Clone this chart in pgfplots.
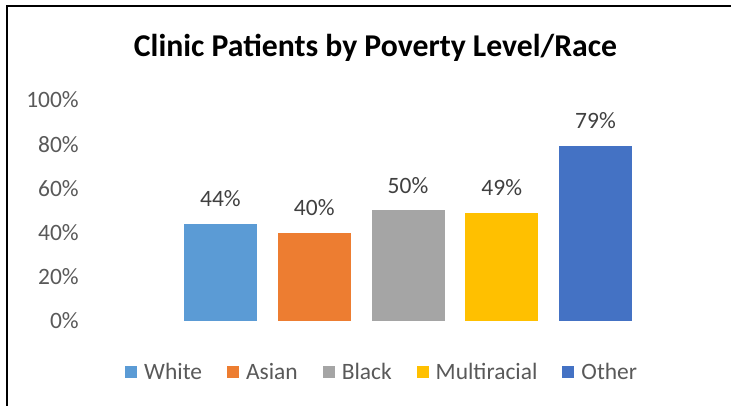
\documentclass[border=0pt]{standalone}
\usepackage{pgfplots}
\pgfplotsset{compat=1.18}
\usepackage{fontspec}
\setmainfont{Carlito}
\definecolor{cWhite}{HTML}{5B9BD5}
\definecolor{cAsian}{HTML}{ED7D31}
\definecolor{cBlack}{HTML}{A5A5A5}
\definecolor{cMulti}{HTML}{FFC000}
\definecolor{cOther}{HTML}{4472C4}
\definecolor{txt}{HTML}{595959}
\definecolor{lbl}{HTML}{404040}
\begin{document}
\begin{tikzpicture}
\begin{scope}[x=0.75pt,y=0.75pt]
\path[use as bounding box] (0,0) rectangle (731,406);
\draw[line width=1.2pt] (7,0) -- (7,400) -- (731,400);
\node[font=\fontsize{23.8}{28}\selectfont\bfseries, text=black] at (375.5,358) {Clinic Patients by Poverty Level/Race};
\end{scope}
\begin{axis}[
  at={(66pt,63.75pt)}, anchor=south west,
  scale only axis,
  width=480pt, height=165.75pt,
  xmin=-1.413, xmax=5.413,
  ymin=0, ymax=100,
  ybar, bar width=54.75pt, bar shift=0pt,
  axis line style={draw=none},
  xtick=\empty,
  ytick={0,20,40,60,80,100},
  major tick length=0pt,
  /pgf/number format/assume math mode=true,
  yticklabel={\pgfmathprintnumber{\tick}\%},
  yticklabel style={font=\fontsize{17.6}{21}\selectfont, text=txt, inner sep=0pt, xshift=-6.75pt},
  nodes near coords={\pgfmathprintnumber{\pgfplotspointmeta}\%},
  every node near coord/.append style={font=\fontsize{17.6}{21}\selectfont, text=lbl, inner sep=0pt, anchor=south, yshift=12.75pt},
  legend columns=5,
  legend style={at={(0.458,-0.231)}, anchor=center, draw=none, fill=none,
    font=\fontsize{17.6}{21}\selectfont, text=txt,
    nodes={inner sep=0pt},
    column sep=5.25pt,
    /tikz/every even column/.append style={column sep=18.75pt}},
  legend image code/.code={\fill[#1] (0pt,-4.5pt) rectangle (9pt,4.5pt);},
]
\addplot[fill=cWhite, draw=none] coordinates {(0,44)};
\addlegendentry{White}
\addplot[fill=cAsian, draw=none] coordinates {(1,40)};
\addlegendentry{Asian}
\addplot[fill=cBlack, draw=none] coordinates {(2,50)};
\addlegendentry{Black}
\addplot[fill=cMulti, draw=none] coordinates {(3,49)};
\addlegendentry{Multiracial}
\addplot[fill=cOther, draw=none] coordinates {(4,79)};
\addlegendentry{Other}
\end{axis}
\end{tikzpicture}
\end{document}
